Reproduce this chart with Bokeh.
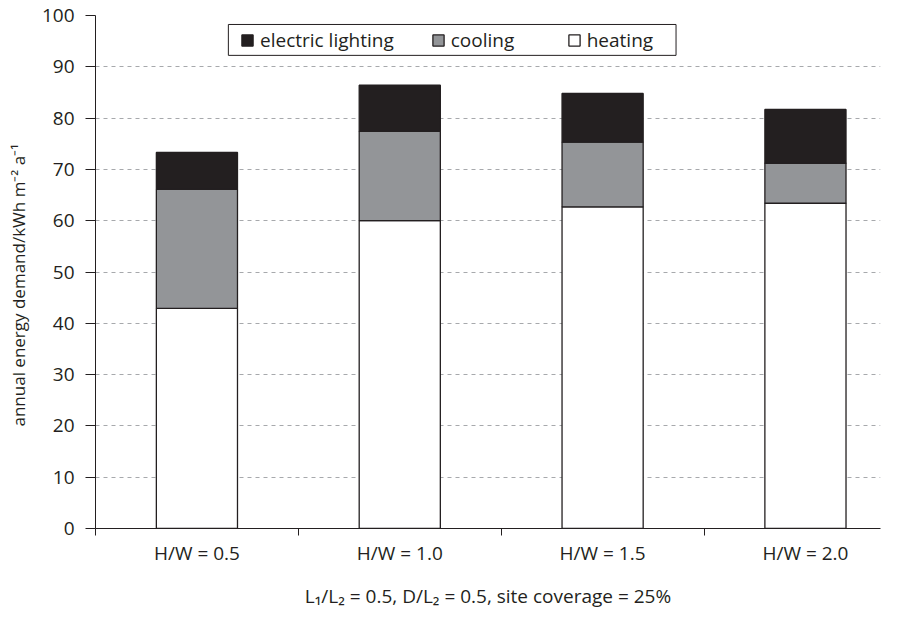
from bokeh.plotting import figure
from bokeh.models import FixedTicker, Legend, LegendItem, Range1d, ColumnDataSource, BoxAnnotation
from bokeh.embed import file_html
from bokeh.resources import INLINE

categories = ["H/W = 0.5", "H/W = 1.0", "H/W = 1.5", "H/W = 2.0"]
heating = [42.9, 60.0, 62.7, 63.4]
cooling = [23.2, 17.4, 12.6, 7.8]
lighting = [7.2, 9.0, 9.5, 10.5]
y_ticks = [0, 10, 20, 30, 40, 50, 60, 70, 80, 90, 100]

xs = list(range(1, len(categories) + 1))
bounds = [x - 0.5 for x in xs] + [xs[-1] + 0.5]
source = ColumnDataSource(dict(x=xs, heating=heating, cooling=cooling, lighting=lighting))

FONT = "Open Sans"
DARK = "#231f20"

p = figure(width=892, height=611, output_backend="svg", toolbar_location=None,
           x_range=Range1d(0.5, 4.37), y_range=Range1d(0, 100),
           min_border_left=95, min_border_right=12, min_border_top=15, min_border_bottom=81)
p.outline_line_color = None
p.background_fill_color = "white"

rs = p.vbar_stack(["heating", "cooling", "lighting"], x="x", width=0.4, source=source,
                  fill_color=["white", "#939598", DARK], line_color=DARK, line_width=1.3)

# x axis
xa = p.xaxis[0]
xa.ticker = FixedTicker(ticks=xs, minor_ticks=bounds)
xa.major_label_overrides = {x: c for x, c in zip(xs, categories)}
xa.major_tick_out = 0
xa.major_tick_in = 0
xa.minor_tick_out = 7
xa.minor_tick_in = 0
xa.minor_tick_line_color = DARK
xa.axis_line_color = DARK
xa.major_label_text_font = FONT
xa.major_label_text_font_size = "19px"
xa.major_label_text_color = DARK
xa.major_label_standoff = 4
xa.axis_label = "L\u2081/L\u2082 = 0.5, D/L\u2082 = 0.5, site coverage = 25%"
xa.axis_label_text_font = FONT
xa.axis_label_text_font_size = "19px"
xa.axis_label_text_font_style = "normal"
xa.axis_label_text_color = DARK
xa.axis_label_standoff = 14

# y axis
ya = p.yaxis[0]
ya.ticker = FixedTicker(ticks=y_ticks, minor_ticks=[])
ya.major_tick_out = 10
ya.major_tick_in = 0
ya.major_tick_line_color = DARK
ya.axis_line_color = DARK
ya.major_label_text_font = FONT
ya.major_label_text_font_size = "19px"
ya.major_label_text_color = DARK
ya.major_label_standoff = 11
ya.axis_label = "annual energy demand/kWh m\u207b\u00b2 a\u207b\u00b9" + "\u00a0" * 6
ya.axis_label_text_font = FONT
ya.axis_label_text_font_size = "17px"
ya.axis_label_text_font_style = "normal"
ya.axis_label_text_color = DARK
ya.axis_label_standoff = 9

p.xgrid.visible = False
p.ygrid.ticker = FixedTicker(ticks=y_ticks[1:], minor_ticks=[])
p.ygrid.grid_line_color = "#a7a9ac"
p.ygrid.grid_line_dash = "4 4"
p.ygrid.grid_line_width = 1

# legend frame
frame_box = BoxAnnotation(left=1.155, right=3.362, bottom=92.23, top=98.25,
                          fill_color="white", fill_alpha=1,
                          line_color=DARK, line_width=1, line_alpha=1)
p.add_layout(frame_box)

legend = Legend(items=[
    LegendItem(label="electric lighting", renderers=[rs[2]]),
    LegendItem(label="cooling", renderers=[rs[1]]),
    LegendItem(label="heating", renderers=[rs[0]]),
], location=(145, 475), orientation="horizontal")
legend.border_line_color = None
legend.background_fill_alpha = 0
legend.label_text_font = FONT
legend.label_text_font_size = "19px"
legend.label_text_color = DARK
legend.glyph_width = 14
legend.glyph_height = 14
legend.label_standoff = 6
legend.label_width = 79
legend.spacing = 37
legend.padding = 3
legend.margin = 0
p.add_layout(legend)

open("out.html", "w").write(file_html(p, INLINE))
